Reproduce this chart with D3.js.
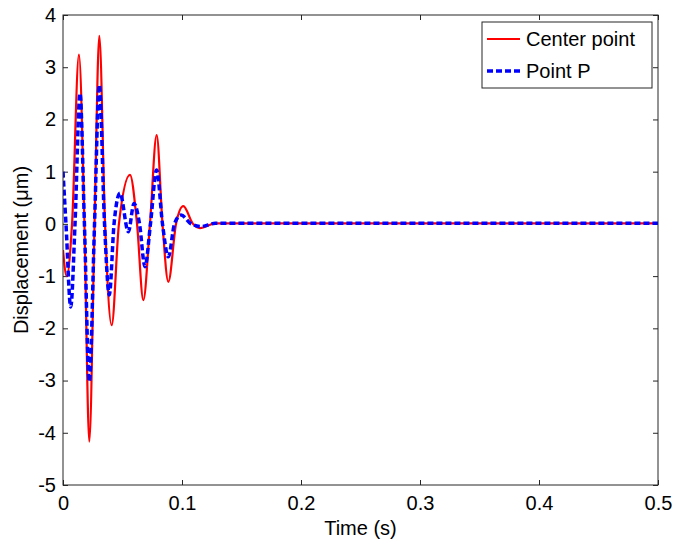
<!DOCTYPE html>
<html>
<head>
<meta charset="utf-8">
<script src="https://cdn.jsdelivr.net/npm/d3@7"></script>
<style>
  body { margin: 0; background: #fff; }
  svg { display: block; }
  text { font-family: "Liberation Sans", Arial, Helvetica, sans-serif; fill: #000; }
</style>
</head>
<body>
<svg id="chart" width="673" height="546"></svg>
<script>
// Data (time in s, displacement in µm)
const centerTime = [0, 0.0031, 0.0076, 0.0134, 0.018, 0.0221, 0.0265, 0.0305, 0.0353, 0.0409, 0.047, 0.0563, 0.0622, 0.0675, 0.0731, 0.0787, 0.0836, 0.0885, 0.095, 0.1011, 0.1092, 0.1151, 0.128, 0.5];
const centerDisp = [-0.5, -1.0, 0, 3.24, 0, -4.17, 0, 3.6, 0, -1.94, 0, 0.94, 0, -1.46, 0, 1.70, 0, -1.11, 0, 0.34, 0, -0.08, 0.01, 0.01];

const pointPTime = [0, 0.0025, 0.0065, 0.0101, 0.0143, 0.018, 0.0221, 0.0265, 0.0305, 0.0349, 0.0389, 0.0429, 0.0479, 0.0549, 0.0597, 0.0643, 0.0689, 0.0735, 0.0787, 0.0836, 0.0885, 0.0937, 0.0992, 0.1076, 0.116, 0.128, 0.5];
const pointPDisp = [1.0, 0, -1.59, 0, 2.5, 0, -3.02, 0, 2.66, 0, -1.36, 0, 0.59, -0.15, 0.39, 0, -0.82, 0, 1.03, 0, -0.63, 0, 0.17, 0, -0.05, 0.01, 0.01];

const xTicks = [0, 0.1, 0.2, 0.3, 0.4, 0.5];
const yTicks = [-5, -4, -3, -2, -1, 0, 1, 2, 3, 4];
const seriesNames = ["Center point", "Point P"];

const svg = d3.select("#chart");
const L = 63, R = 658, T = 15, B = 485;
const x = d3.scaleLinear().domain([0, 0.5]).range([L, R]);
const y = d3.scaleLinear().domain([-5, 4]).range([B, T]);

const fontSize = 20;
const axisColor = "#262626";

const gB = svg.append("g").attr("transform", `translate(0,${B})`)
  .call(d3.axisBottom(x).tickValues(xTicks).tickSizeInner(-5).tickSizeOuter(0).tickPadding(11).tickFormat(d => d === 0 ? "0" : d3.format(".1f")(d)));
const gT = svg.append("g").attr("transform", `translate(0,${T})`)
  .call(d3.axisTop(x).tickValues(xTicks).tickSizeInner(-5).tickSizeOuter(0).tickFormat(""));
const gL = svg.append("g").attr("transform", `translate(${L},0)`)
  .call(d3.axisLeft(y).tickValues(yTicks).tickSizeInner(-5).tickSizeOuter(0).tickPadding(7).tickFormat(d => String(d)));
const gR = svg.append("g").attr("transform", `translate(${R},0)`)
  .call(d3.axisRight(y).tickValues(yTicks).tickSizeInner(-5).tickSizeOuter(0).tickFormat(""));

[gB, gT, gL, gR].forEach(g => {
  g.select(".domain").remove();
  g.selectAll(".tick line").attr("stroke", axisColor).attr("stroke-width", 1);
  g.selectAll(".tick text").attr("font-size", fontSize).attr("font-family", "Liberation Sans, Arial, sans-serif").attr("fill", "#000");
});

svg.append("clipPath").attr("id", "clip").append("rect")
  .attr("x", L).attr("y", T).attr("width", R - L).attr("height", B - T);

const line = d3.line().curve(d3.curveMonotoneX);

const centerPts = centerTime.map((t, i) => [x(t), y(centerDisp[i])]);
const pPts = pointPTime.map((t, i) => [x(t), y(pointPDisp[i])]);

const plot = svg.append("g").attr("clip-path", "url(#clip)");
plot.append("path").attr("d", line(centerPts))
  .attr("fill", "none").attr("stroke", "#ff0000").attr("stroke-width", 2.2);
plot.append("path").attr("d", line(pPts))
  .attr("fill", "none").attr("stroke", "#0000ff").attr("stroke-width", 3.5)
  .attr("stroke-dasharray", "6,3");

svg.append("rect").attr("x", L).attr("y", T).attr("width", R - L).attr("height", B - T)
  .attr("fill", "none").attr("stroke", axisColor).attr("stroke-width", 1);

svg.append("text").attr("x", (L + R) / 2).attr("y", 535).attr("text-anchor", "middle")
  .attr("font-size", fontSize).text("Time (s)");
svg.append("text").attr("transform", `translate(28,${(T + B) / 2}) rotate(-90)`)
  .attr("text-anchor", "middle").attr("font-size", fontSize).text("Displacement (μm)");

const lg = svg.append("g");
lg.append("rect").attr("x", 482).attr("y", 22).attr("width", 170).attr("height", 66)
  .attr("fill", "#fff").attr("stroke", axisColor).attr("stroke-width", 1);
const legendItems = [
  { name: seriesNames[0], color: "#ff0000", w: 2.2, dash: null, yy: 39 },
  { name: seriesNames[1], color: "#0000ff", w: 3.5, dash: "6,3", yy: 71 }
];
legendItems.forEach(it => {
  const ln = lg.append("line").attr("x1", 487).attr("x2", 520).attr("y1", it.yy).attr("y2", it.yy)
    .attr("stroke", it.color).attr("stroke-width", it.w);
  if (it.dash) ln.attr("stroke-dasharray", it.dash);
  lg.append("text").attr("x", 526).attr("y", it.yy + 7).attr("font-size", fontSize).text(it.name);
});
</script>
</body>
</html>
